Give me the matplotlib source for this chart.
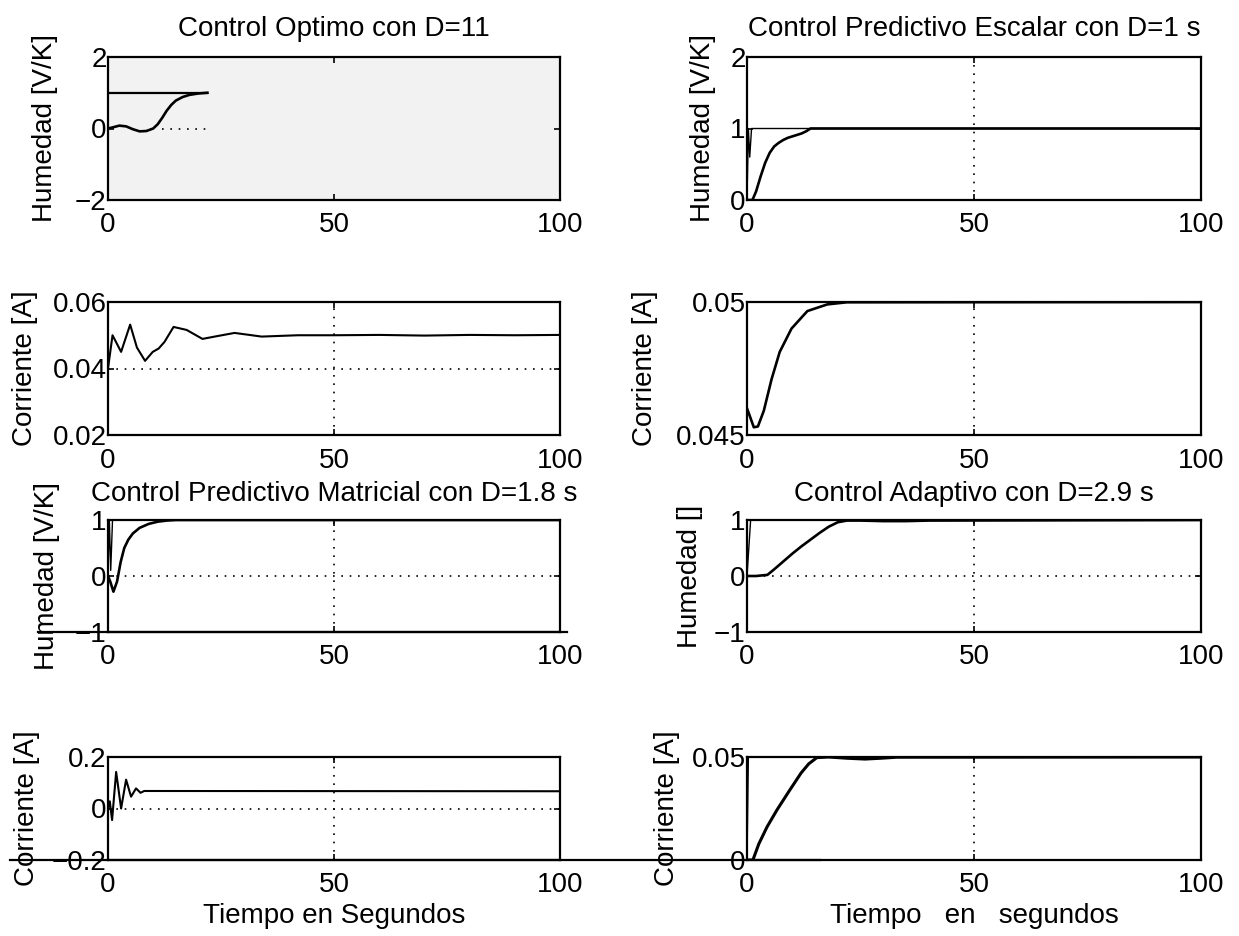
import matplotlib.pyplot as plt
from matplotlib.lines import Line2D

plt.rcParams['font.family'] = ['Liberation Sans', 'DejaVu Sans']

# Control optimo D=11
t_opt_h = [0, 1, 2.5, 4, 5.5, 7, 8.5, 10, 11, 12, 13, 14, 15, 16.5, 18, 20, 22]
hum_opt = [0, 0.03, 0.08, 0.06, -0.02, -0.08, -0.07, 0.0, 0.12, 0.3, 0.5, 0.66, 0.78, 0.88, 0.94, 0.98, 1.0]
t_opt_ref = [0, 22]
ref_opt = [1, 1]
t_opt_c = [0, 1, 2.9, 4.9, 6.4, 8.2, 9.9, 11.2, 12.5, 14.5, 17.4, 20.9, 23.6, 28, 34, 42, 50, 60, 70, 80, 90, 100]
cor_opt = [0.040, 0.050, 0.045, 0.0532, 0.0463, 0.0423, 0.045, 0.046, 0.048, 0.0525, 0.0516, 0.0489, 0.0496,
           0.0507, 0.0496, 0.0500, 0.0500, 0.0501, 0.0499, 0.0501, 0.0500, 0.0501]

# Control predictivo escalar D=1 s
t_esc_ref = [0, 0.3, 0.6, 1.0, 100]
ref_esc = [0, 1, 0.6, 1, 1]
t_esc_h = [0, 1.2, 2, 3, 4, 5, 6, 7, 8, 9, 10, 11, 12, 13, 14, 100]
hum_esc = [0, 0, 0.12, 0.33, 0.52, 0.66, 0.75, 0.8, 0.84, 0.87, 0.89, 0.91, 0.93, 0.96, 1.0, 1.0]
t_esc_c = [0, 0.35, 1.5, 2.4, 3.7, 5.4, 7.2, 9.8, 13.3, 17.7, 22, 100]
cor_esc = [0.0460, 0.04584, 0.04529, 0.04532, 0.04591, 0.04709, 0.04812, 0.0490, 0.04966, 0.04991, 0.04999, 0.0500]

# Control predictivo matricial D=1.8 s
t_mat_ref = [0, 0.3, 0.6, 1.0, 100]
ref_mat = [0, 1, 0.1, 1, 1]
t_mat_h = [0, 0.5, 1.2, 2, 2.8, 3.6, 4.5, 5.5, 7, 9, 11, 13, 15, 100]
hum_mat = [0, -0.1, -0.28, -0.1, 0.25, 0.5, 0.65, 0.76, 0.86, 0.93, 0.97, 0.99, 1.0, 1.0]
t_mat_c = [0, 0.4, 0.9, 1.8, 2.9, 4.0, 5.1, 6.2, 7.2, 8.0, 100]
cor_mat = [0, 0.028, -0.045, 0.142, 0.0, 0.112, 0.046, 0.078, 0.061, 0.068, 0.067]

# Control adaptivo D=2.9 s
t_ada_ref = [0, 0.8, 100]
ref_ada = [0, 1, 1]
t_ada_h = [0, 2, 4.5, 6, 8, 10, 12, 14, 16, 18, 20, 22, 25, 30, 35, 40, 100]
hum_ada = [0, 0, 0.02, 0.12, 0.26, 0.4, 0.53, 0.65, 0.77, 0.88, 0.96, 0.99, 0.99, 0.98, 0.98, 0.99, 1.0]
t_ada_ref_c = [0, 0.3, 100]
ref_ada_c = [0, 0.05, 0.05]
t_ada_c = [0, 1.3, 2.6, 4.4, 6.6, 9.2, 11.9, 13.6, 15.4, 18, 22, 26, 29.5, 33, 100]
cor_ada = [0, 0, 0.0078, 0.016, 0.0243, 0.0332, 0.0422, 0.0467, 0.0497, 0.05, 0.0494, 0.0490, 0.0494, 0.0499, 0.05]

titles = ['Control Optimo con D=11', 'Control Predictivo Escalar con D=1 s',
          'Control Predictivo Matricial con D=1.8 s', 'Control Adaptivo con D=2.9 s']
xticks = [0, 50, 100]

W, H = 1239, 936
FS = 20
fig = plt.figure(figsize=(W / 100, H / 100), dpi=100)

# cajas de los ejes en pixeles (x0, x1) y (arriba, abajo)
cols = [(108, 560), (747, 1201)]
rows = [(57, 200), (302, 435), (520, 632), (757, 860)]


def make_ax(r, c, ylab, ylab_x):
    x0, x1 = cols[c]
    top, bot = rows[r]
    ax = fig.add_axes([x0 / W, 1 - bot / H, (x1 - x0) / W, (bot - top) / H])
    ax.set_xlim(0, 100)
    ax.set_xticks(xticks)
    ax.tick_params(direction='in', top=True, right=True, length=4, width=1.2,
                   labelsize=FS, pad=9)
    ax.tick_params(axis='y', pad=1)
    for s in ax.spines.values():
        s.set_linewidth(1.6)
    ax.set_ylabel(ylab, fontsize=FS, va='center')
    ax.yaxis.set_label_coords((ylab_x - x0) / (x1 - x0), 0.5)
    return ax


def grid50(ax, yg=None):
    ax.axvline(50, color='k', ls=(0, (1, 4)), lw=1.2)
    if yg is not None:
        ax.axhline(yg, color='k', ls=(0, (1, 4)), lw=1.2)


lw = 1.9

# fila 1 izquierda
ax = make_ax(0, 0, 'Humedad [V/K]', 45)
ax.set_facecolor('#f2f2f2')
ax.plot(t_opt_ref, ref_opt, color='k', lw=1.6)
ax.plot(t_opt_h, hum_opt, color='k', lw=lw)
ax.hlines(0, 12, 22, colors='k', linestyles=(0, (1, 4)), lw=1.2)
ax.set_ylim(-2, 2)
ax.set_yticks([-2, 0, 2])
ax.set_yticklabels(['\u22122', '0', '2'])
ax.set_title(titles[0], fontsize=FS, pad=15)

# fila 1 derecha
ax = make_ax(0, 1, 'Humedad [V/K]', 703)
ax.plot(t_esc_ref, ref_esc, color='k', lw=1.0)
ax.plot(t_esc_h, hum_esc, color='k', lw=lw)
grid50(ax)
ax.set_ylim(0, 2)
ax.set_yticks([0, 1, 2])
ax.set_title(titles[1], fontsize=FS, pad=15)

# fila 2 izquierda
ax = make_ax(1, 0, 'Corriente [A]', 25)
ax.plot(t_opt_c, cor_opt, color='k', lw=1.5)
grid50(ax, 0.04)
ax.set_ylim(0.02, 0.06)
ax.set_yticks([0.02, 0.04, 0.06])
ax.set_yticklabels(['0.02', '0.04', '0.06'])

# fila 2 derecha
ax = make_ax(1, 1, 'Corriente [A]', 645)
ax.plot(t_esc_c, cor_esc, color='k', lw=lw)
grid50(ax)
ax.set_ylim(0.045, 0.05)
ax.set_yticks([0.045, 0.05])
ax.set_yticklabels(['0.045', '0.05'])

# fila 3 izquierda
ax = make_ax(2, 0, 'Humedad [V/K]', 47)
ax.plot(t_mat_ref, ref_mat, color='k', lw=1.0)
ax.plot(t_mat_h, hum_mat, color='k', lw=lw)
grid50(ax, 0)
ax.set_ylim(-1, 1)
ax.set_yticks([-1, 0, 1])
ax.set_yticklabels(['\u22121', '0', '1'])
ax.set_title(titles[2], fontsize=FS, pad=14)

# fila 3 derecha
ax = make_ax(2, 1, 'Humedad []', 690)
ax.plot(t_ada_ref, ref_ada, color='k', lw=1.0)
ax.plot(t_ada_h, hum_ada, color='k', lw=lw)
grid50(ax, 0)
ax.set_ylim(-1, 1)
ax.set_yticks([-1, 0, 1])
ax.set_yticklabels(['\u22121', '0', '1'])
ax.set_title(titles[3], fontsize=FS, pad=14)

# fila 4 izquierda
ax = make_ax(3, 0, 'Corriente [A]', 27)
ax.plot(t_mat_c, cor_mat, color='k', lw=1.5)
grid50(ax, 0)
ax.set_ylim(-0.2, 0.2)
ax.set_yticks([-0.2, 0, 0.2])
ax.set_yticklabels(['\u22120.2', '0', '0.2'])
ax.set_xlabel('Tiempo en Segundos', fontsize=FS, labelpad=3)

# fila 4 derecha
ax = make_ax(3, 1, 'Corriente [A]', 667)
ax.plot(t_ada_ref_c, ref_ada_c, color='k', lw=1.0)
ax.plot(t_ada_c, cor_ada, color='k', lw=2.2)
grid50(ax)
ax.set_ylim(0, 0.05)
ax.set_yticks([0, 0.05])
ax.set_yticklabels(['0', '0.05'])
ax.set_xlabel('Tiempo   en   segundos', fontsize=FS, labelpad=3)

# lineas sobrantes del escaneo
fig.add_artist(Line2D([10 / W, 820 / W], [1 - rows[3][1] / H] * 2, color='k', lw=1.6))
fig.add_artist(Line2D([38 / W, 567 / W], [1 - rows[2][1] / H] * 2, color='k', lw=1.6))

fig.savefig('out.png', dpi=100)
